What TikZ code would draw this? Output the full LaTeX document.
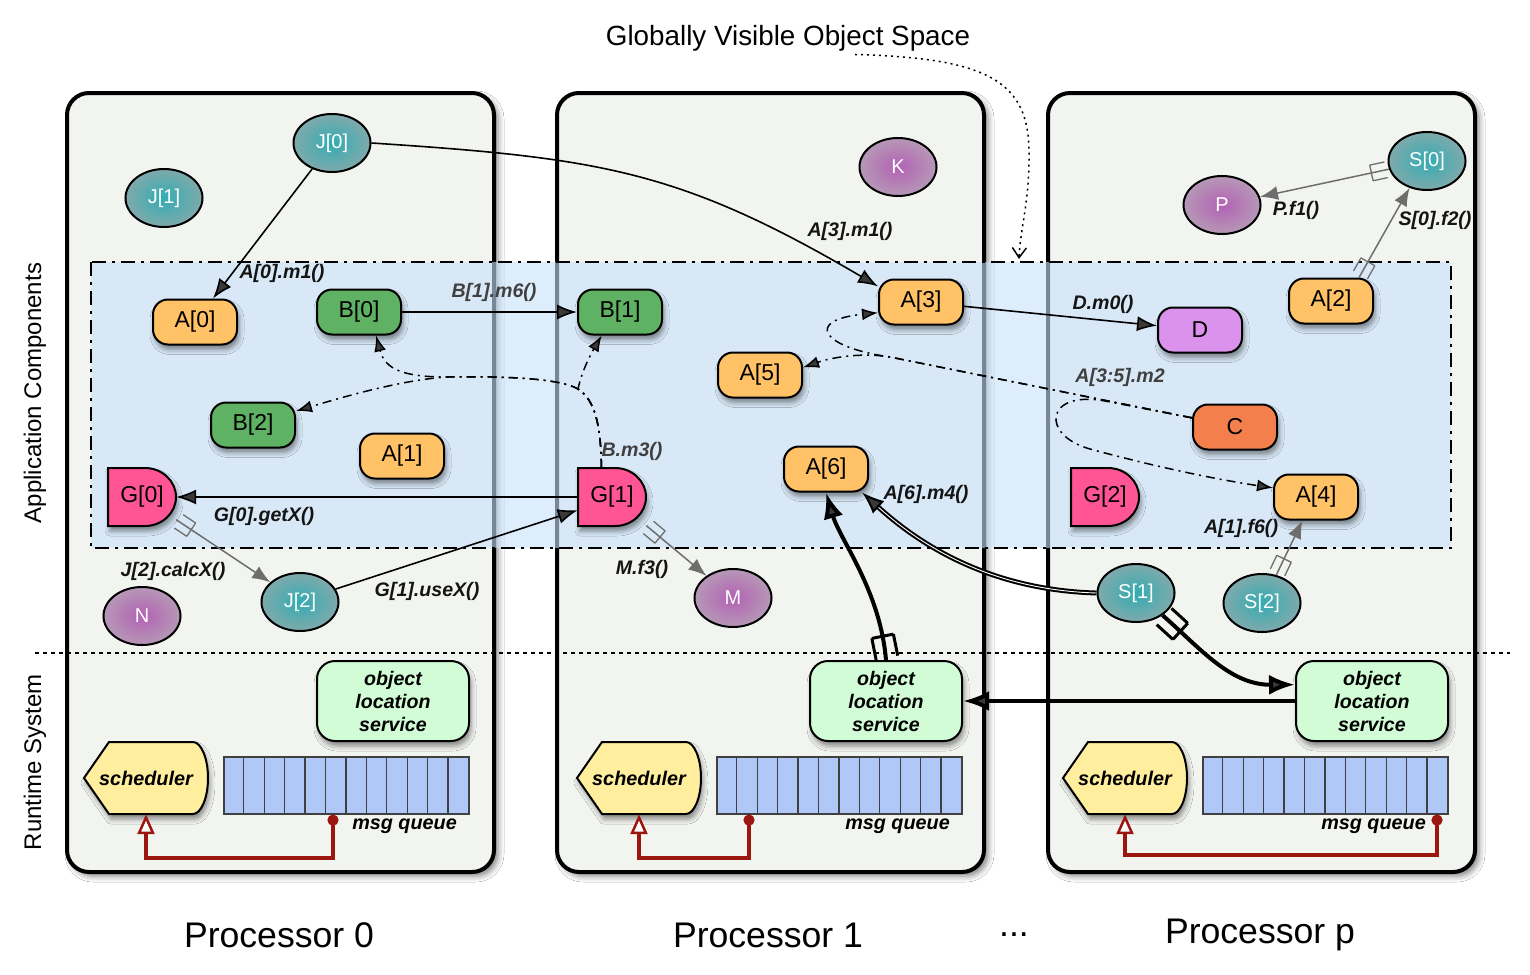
\documentclass[tikz,border=0pt]{standalone}
\usepackage{fontspec}
\setmainfont{Liberation Sans}
\usetikzlibrary{arrows.meta,positioning,shapes.geometric,shadows.blur,decorations.markings,calc}

\definecolor{procgray}{RGB}{242,244,240}
\definecolor{appblue}{RGB}{200,225,250}
\definecolor{aorange}{RGB}{255,194,102}
\definecolor{bgreen}{RGB}{95,178,100}
\definecolor{dviolet}{RGB}{218,146,236}
\definecolor{corange}{RGB}{243,128,76}
\definecolor{gpink}{RGB}{255,85,150}
\definecolor{tealin}{RGB}{50,172,178}
\definecolor{tealout}{RGB}{128,170,172}
\definecolor{purpin}{RGB}{178,98,180}
\definecolor{purpout}{RGB}{182,152,182}
\definecolor{olsgreen}{RGB}{210,252,214}
\definecolor{schyellow}{RGB}{255,238,158}
\definecolor{qblue}{RGB}{176,200,248}
\definecolor{qred}{RGB}{155,22,14}
\definecolor{rgray}{RGB}{110,110,110}
\definecolor{lblgray}{RGB}{64,64,64}

\newcommand{\bfit}{\bfseries\itshape}

\begin{document}
\begin{tikzpicture}[x=1pt, y=-1pt,
    % ---------- styles ----------
    nshadow/.style={blur shadow={shadow xshift=2pt, shadow yshift=-5pt,
      shadow blur radius=5pt, shadow opacity=45}},
    procbox/.style={draw=black, line width=4pt, fill=procgray, rounded corners=22pt,
      blur shadow={shadow xshift=4pt, shadow yshift=-4pt,
      shadow blur radius=6pt, shadow opacity=50}},
    appregion/.style={draw=black, line width=1.6pt, fill=appblue, fill opacity=0.6,
      dash pattern=on 14pt off 6pt on 3pt off 6pt},
    sepline/.style={line width=1.5pt, dash pattern=on 4pt off 4pt},
    objbox/.style={rectangle, rounded corners=15pt, draw=black, line width=2pt,
      minimum width=84pt, minimum height=45pt, inner sep=0pt,
      font=\fontsize{23}{26}\selectfont, nshadow},
    aobj/.style={objbox, fill=aorange},
    bobj/.style={objbox, fill=bgreen},
    gshape/.style={draw=black, line width=2pt, fill=gpink, nshadow},
    gtext/.style={rectangle, minimum width=68pt, minimum height=58pt, inner sep=0pt,
      font=\fontsize{23}{26}\selectfont},
    tobj/.style={ellipse, draw=black, line width=2pt, minimum width=77pt,
      minimum height=58pt, inner sep=0pt, inner color=tealin, outer color=tealout,
      text=white, font=\fontsize{20}{24}\selectfont},
    pobj/.style={tobj, inner color=purpin, outer color=purpout},
    olsbox/.style={rectangle, rounded corners=18pt, draw=black, line width=2pt,
      fill=olsgreen, minimum width=152pt, minimum height=80pt, inner sep=0pt,
      align=center, font=\fontsize{19.6}{23}\selectfont\bfit, nshadow},
    schshape/.style={draw=black, line width=2pt, fill=schyellow, nshadow},
    schtext/.style={rectangle, minimum width=124pt, minimum height=72pt, inner sep=0pt,
      font=\fontsize{19.8}{23}\selectfont\bfit},
    queuebox/.style={rectangle, draw=black!75, line width=1.2pt, fill=qblue,
      minimum width=245pt, minimum height=57pt, inner sep=0pt},
    queuecell/.style={draw=black!75, line width=1.2pt},
    rtlbl/.style={font=\fontsize{19.8}{23}\selectfont\bfit, inner sep=1pt},
    clbl/.style={font=\fontsize{19.6}{23}\selectfont\bfit, text=black!92, inner sep=1pt},
    glbl/.style={clbl, text=lblgray},
    hdr/.style={font=\fontsize{35.6}{40}\selectfont},
    sidelbl/.style={rotate=90, font=\fontsize{24}{28}\selectfont},
    callarr/.style={-{Latex[length=20pt,width=15pt]}, line width=1.6pt},
    rcall/.style={-{Latex[length=18pt,width=14pt]}, line width=1.5pt, draw=rgray,
      postaction={decorate, decoration={markings, mark=at position 18pt with
      {\draw[rgray, line width=1.3pt, -, solid] (0,-8) -- (0,8) (0,-8) -- (-15,-8)
        (0,8) -- (-15,8);}}}},
    bigarr/.style={-{Latex[length=26pt,width=20pt]}, line width=4pt},
    bfork/.style={postaction={decorate, decoration={markings, mark=at position 24pt with
      {\draw[black, line width=3pt, -, solid] (0,-11) -- (0,11) (0,-11) -- (-22,-11)
        (0,11) -- (-22,11);}}}},
    dblarr/.style={-{Latex[length=22pt,width=17pt]}, line width=2pt,
      double=white, double distance=0.9pt},
    dotarr/.style={-{Latex[length=16pt,width=12pt]}, line width=1.5pt,
      dash pattern=on 9pt off 5pt on 2pt off 5pt},
    qarr/.style={arrows={Circle[length=11pt]-Triangle[open,fill=white,length=20pt,width=17pt,line width=2.5pt]},
      line width=3.5pt, draw=qred},
    gvosarr/.style={-{Straight Barb[length=10pt,width=14pt]}, line width=1.5pt,
      dash pattern=on 2pt off 4pt}
]

\fill[white] (0,0) rectangle (1530,974);
\useasboundingbox (0,0) rectangle (1530,974);

% ====== Processors ======
\foreach \bx in {67,557,1048}
  \draw[procbox] (\bx,93) rectangle ++(427,779);

% ====== Application components region ======
\draw[appregion] (91,262) rectangle (1451,548);
\coordinate (apptop) at (1019,259);
\draw[sepline] (35,653) -- (1510,653);

% ====== Headers ======
\node[font=\fontsize{27.8}{32}\selectfont] (gvos) at (788,38) {Globally Visible Object Space};
\node[sidelbl] (appcomp) at (35,393) {Application Components};
\node[sidelbl] (rtsys) at (35,762) {Runtime System};
\node[hdr] (proc0) at (279,935) {Processor 0};
\node[hdr] (proc1) at (768,935) {Processor 1};
\node[hdr] (dots) at (1014,935) {...};
\node[hdr] (procp) at (1260,935) {Processor p};

% ====== Objects ======
\node[aobj] (A0) at (195,322) {A[0]};
\node[aobj] (A1) at (402,456) {A[1]};
\node[aobj] (A2) at (1331,301) {A[2]};
\node[aobj] (A3) at (921,302) {A[3]};
\node[aobj] (A4) at (1316,497) {A[4]};
\node[aobj] (A5) at (760,375) {A[5]};
\node[aobj] (A6) at (826,469) {A[6]};
\node[bobj] (B0) at (359,312) {B[0]};
\node[bobj] (B1) at (620,312) {B[1]};
\node[bobj] (B2) at (253,425) {B[2]};
\node[objbox, fill=corange] (C) at (1235,427) {C};
\node[objbox, fill=dviolet] (D) at (1200,330) {D};

\foreach \gx/\gn in {142/0, 612/1, 1105/2} {
  \draw[gshape] (\gx-34,468) -- (\gx+3,468)
    .. controls (\gx+20,468) and (\gx+34,481) .. (\gx+34,497)
    .. controls (\gx+34,513) and (\gx+20,526) .. (\gx+3,526) -- (\gx-34,526) -- cycle;
  \node[gtext] (G\gn) at (\gx,497) {G[\gn]};
}

\node[tobj] (J0) at (332,143) {J[0]};
\node[tobj] (J1) at (164,198) {J[1]};
\node[tobj] (J2) at (300,602) {J[2]};
\node[tobj] (S0) at (1427,161) {S[0]};
\node[tobj] (S1) at (1136,593) {S[1]};
\node[tobj] (S2) at (1262,603) {S[2]};
\node[pobj] (K) at (898,167) {K};
\node[pobj] (P) at (1222,205) {P};
\node[pobj] (N) at (142,616) {N};
\node[pobj] (M) at (733,598) {M};

% ====== Runtime system ======
\foreach \ox/\dx/\ly/\lx [count=\i from 0] in {0/333/858/11, 493/749/858/11, 979/1437/855/21} {
  \node[olsbox] (ols\i) at (393+\ox,701) {object\\location\\service};
  \draw[schshape] (84+\ox,778) -- (109+\ox,742) -- (193+\ox,742)
    .. controls (201+\ox,742) and (208+\ox,758) .. (208+\ox,778)
    .. controls (208+\ox,798) and (201+\ox,814) .. (193+\ox,814) -- (109+\ox,814) -- cycle;
  \node[schtext] (sched\i) at (146+\ox,778) {scheduler};
  \node[queuebox] (queue\i) at (346.5+\ox,785.5) {};
  \foreach \k in {1,...,11}
    \draw[queuecell] ($(queue\i.north west)+(\k*20.42,0)$) -- ++(0,57);
  \node[rtlbl, anchor=east] (mq\i) at (469+\ox-\lx,826) {msg queue};
  \draw[qarr] (\dx,0 |- queue\i.south) -- (\dx,\ly) -| (sched\i.south);
}

% ====== Method calls ======
\draw[callarr] (J0) -- (A0);
\draw[callarr] (J0.east) .. controls (600,158) and (680,170) .. (A3.160);
\draw[callarr] (B0) -- (B1);
\draw[callarr] (A3) -- (D);
\draw[callarr] (G1) -- (G0);
\draw[callarr] (J2.20) -- (G1.201);

% ====== Remote calls ======
\draw[rcall] (G0) -- (J2);
\draw[rcall] (G1) -- (M);
\draw[rcall] (S0) -- (P);
\draw[rcall] (A2.40) -- (S0.237);
\draw[rcall] (S2.63) -- (A4.-120);

% ====== Runtime messages ======
\draw[bigarr, bfork] (ols1.north) .. controls (880,590) and (840,540) .. (A6.south);
\draw[bigarr, bfork] (S1.-40) .. controls (1200,648) and (1230,685) .. (ols2.168);
\draw[bigarr] (ols2.west) -- (ols1.east);
\draw[dblarr] (S1.west) .. controls (990,590) and (920,545) .. (A6.-33);

% ====== Broadcasts ======
\draw[dotarr] (G1.110) .. controls (601,425) and (595,400) .. (578,389)
  .. controls (582,370) and (592,352) .. (B1.-128);
\draw[dotarr] (G1.110) .. controls (601,425) and (595,400) .. (578,389)
  .. controls (560,378) and (500,376) .. (447,377)
  .. controls (405,377) and (385,370) .. (B0.-54);
\draw[dotarr] (G1.110) .. controls (601,425) and (595,400) .. (578,389)
  .. controls (560,378) and (500,376) .. (447,377)
  .. controls (400,380) and (340,398) .. (B2.18);
\draw[dotarr] (C.168) -- (890,357) .. controls (820,347) and (805,320) .. (A3.194);
\draw[dotarr] (C.168) -- (890,357) .. controls (860,352) and (830,358) .. (A5.10);
\draw[dotarr] (C.168) -- (1105,401) .. controls (1045,390) and (1040,435) .. (1090,449)
  .. controls (1160,468) and (1220,480) .. (A4.168);

\draw[gvosarr] (855,0 |- gvos.south) .. controls (985,58) and (1028,80) .. (1029,150)
  .. controls (1030,200) and (1020,230) .. (apptop);

% ====== Labels ======
\node[clbl] (lA0) at (282,273) {A[0].m1()};
\node[glbl] (lB1) at (494,292) {B[1].m6()};
\node[clbl] (lA3) at (850,231) {A[3].m1()};
\node[clbl] (lD) at (1103,304) {D.m0()};
\node[clbl] (lP) at (1296,210) {P.f1()};
\node[clbl] (lS0) at (1435,220) {S[0].f2()};
\node[glbl] (lA35) at (1120,377) {A[3:5].m2};
\node[glbl] (lBm3) at (632,451) {B.m3()};
\node[clbl] (lG0) at (264,516) {G[0].getX()};
\node[clbl] (lJ2) at (173,571) {J[2].calcX()};
\node[clbl] (lG1) at (427,591) {G[1].useX()};
\node[clbl] (lM) at (642,569) {M.f3()};
\node[clbl] (lA6) at (926,494) {A[6].m4()};
\node[clbl] (lA1) at (1241,528) {A[1].f6()};

\end{tikzpicture}
\end{document}
